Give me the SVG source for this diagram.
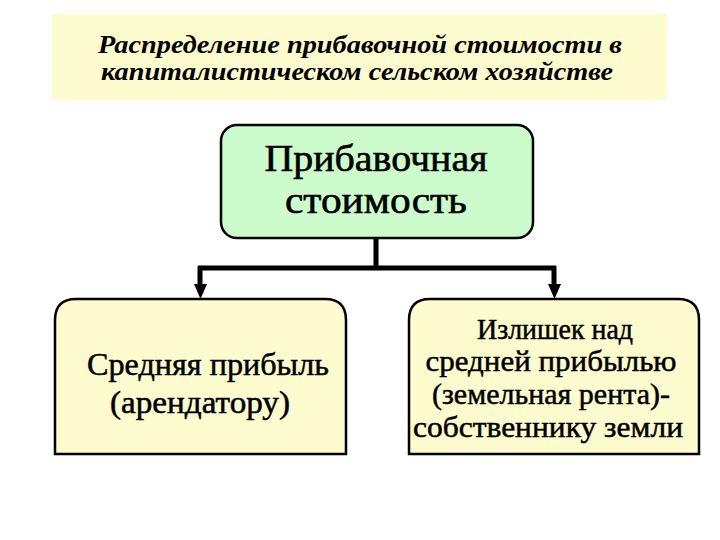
<svg xmlns="http://www.w3.org/2000/svg" width="720" height="540" viewBox="0 0 720 540">
<style>
.box{stroke:#000;stroke-width:2.5}
.conn{stroke:#000;stroke-width:5;fill:none}
.head{fill:#000}
text{fill:#000;text-anchor:middle;font-family:"Liberation Serif","Times New Roman",serif}
.title{font-style:italic;font-weight:bold;font-size:25px}
.big{font-size:38px;stroke:#000;stroke-width:0.6}
.lbl{font-size:31px;stroke:#000;stroke-width:0.5}
.lbl2{font-size:29px;stroke:#000;stroke-width:0.5}
</style>
<rect width="720" height="540" fill="#fff"/>
<g id="title">
<rect x="52" y="14" width="615" height="86" fill="#fdfccf"/>
<text class="title" x="360" y="53" textLength="524" lengthAdjust="spacingAndGlyphs">Распределение прибавочной стоимости в</text>
<text class="title" x="357" y="80" textLength="512" lengthAdjust="spacingAndGlyphs">капиталистическом сельском хозяйстве</text>
</g>
<g id="connectors">
<path class="conn" d="M376,238 V268 M198,268 H556 M200,266 V286 M554,266 V286"/>
<polygon class="head" points="194,284 207,284 200.5,299"/>
<polygon class="head" points="548,284 561,284 554.5,299"/>
</g>
<g id="node-surplus">
<rect class="box" x="221" y="125" width="312" height="113" rx="16" fill="#ccfccc"/>
<text class="big" x="376" y="171" textLength="223" lengthAdjust="spacingAndGlyphs">Прибавочная</text>
<text class="big" x="376" y="213" textLength="182" lengthAdjust="spacingAndGlyphs">стоимость</text>
</g>
<g id="node-profit">
<path class="box" d="M55,454 V320 Q55,299 76,299 H325 Q346,299 346,320 V454 Z" fill="#fdfccf"/>
<text class="lbl" x="208" y="375" textLength="242" lengthAdjust="spacingAndGlyphs">Средняя прибыль</text>
<text class="lbl" x="200" y="413" textLength="180" lengthAdjust="spacingAndGlyphs">(арендатору)</text>
</g>
<g id="node-rent">
<path class="box" d="M409,454 V320 Q409,299 430,299 H678 Q699,299 699,320 V454 Z" fill="#fdfccf"/>
<text class="lbl2" x="555" y="339" textLength="156" lengthAdjust="spacingAndGlyphs">Излишек над</text>
<text class="lbl2" x="551" y="371" textLength="251" lengthAdjust="spacingAndGlyphs">средней прибылью</text>
<text class="lbl2" x="551" y="404" textLength="238" lengthAdjust="spacingAndGlyphs">(земельная рента)-</text>
<text class="lbl2" x="548" y="437" textLength="270" lengthAdjust="spacingAndGlyphs">собственнику земли</text>
</g>
</svg>
